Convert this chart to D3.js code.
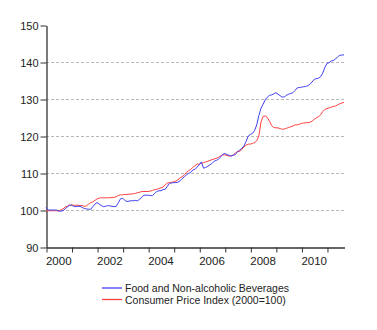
<!DOCTYPE html>
<html>
<head>
<meta charset="utf-8">
<script src="https://cdn.jsdelivr.net/npm/d3@7"></script>
<style>
  html, body { margin: 0; padding: 0; background: #fff; }
  svg text { font-family: "Liberation Sans", Arial, sans-serif; fill: #222; }
</style>
</head>
<body>
<div id="chart-container"></div>
<script>
// monthly index values, Jan 2000 .. Sep 2011 (2000 = 100)
const startYear = 2000
const food = [
  100.7, 100.0, 100.0, 100.0, 100.0, 100.0, 99.7, 99.7, 99.8, 100.3, 100.8, 101.3,
  101.3, 101.0, 100.9, 101.0, 101.0, 100.7, 100.4, 100.3, 100.2, 100.2, 100.9, 101.6,
  102.0, 101.6, 101.2, 100.9, 101.0, 101.2, 101.1, 101.0, 100.9, 101.0, 102.0, 103.0,
  103.2, 102.6, 102.3, 102.4, 102.5, 102.5, 102.6, 102.5, 102.9, 103.5, 104.0, 104.0,
  104.0, 103.9, 103.9, 104.4, 105.0, 105.2, 105.2, 105.5, 105.6, 106.4, 107.2, 107.3,
  107.4, 107.4, 107.5, 107.9, 108.5, 109.0, 109.5, 109.9, 110.2, 110.8, 111.0, 111.6,
  112.2, 113.0, 111.3, 111.5, 111.8, 112.2, 112.6, 113.2, 113.4, 113.7, 114.3, 115.0,
  115.3, 115.0, 114.8, 114.6, 114.8, 115.0, 115.8, 116.2, 116.7, 117.3, 118.5, 120.0,
  120.4, 120.7, 121.5, 123.0, 125.5, 127.5, 128.6, 129.8, 130.5, 131.0, 131.1, 131.4,
  131.7, 131.3, 130.9, 130.5, 130.6, 131.0, 131.3, 131.5, 131.7, 132.3, 133.0, 133.1,
  133.2, 133.3, 133.4, 133.6, 134.0, 134.6, 135.3, 135.5, 135.6, 136.0, 137.0, 138.5,
  139.6, 139.8, 140.3, 140.4, 140.8, 141.4, 141.8, 141.9, 141.9
]
const cpi = [
  99.8, 99.8, 99.8, 99.8, 99.8, 99.8, 99.8, 100.0, 100.3, 100.8, 101.0, 101.3,
  101.35, 101.3, 101.3, 101.3, 101.2, 101.2, 101.0, 101.1, 101.6, 102.0, 102.2, 102.6,
  103.0, 103.2, 103.3, 103.3, 103.3, 103.3, 103.3, 103.4, 103.4, 103.6, 103.9, 104.1,
  104.1, 104.2, 104.2, 104.3, 104.3, 104.4, 104.5, 104.7, 104.8, 105.0, 105.0, 105.0,
  105.0, 105.1, 105.3, 105.5, 105.6, 105.8, 106.0, 106.2, 106.8, 107.3, 107.4, 107.5,
  107.6, 107.8, 108.2, 108.7, 109.0, 109.5, 110.2, 110.6, 111.0, 111.5, 112.0, 112.4,
  112.4, 112.6, 112.8, 113.0, 113.2, 113.4, 113.6, 113.8, 114.0, 114.2, 114.6, 114.9,
  114.9, 114.7, 114.6, 114.6, 114.9, 115.4, 115.8, 115.8, 116.4, 117.1, 117.5, 117.8,
  117.8, 118.0, 118.2, 118.7, 120.0, 123.8, 125.3, 125.4, 125.0, 124.0, 122.8, 122.3,
  122.2, 122.2, 122.0, 121.8, 121.9, 122.1, 122.3, 122.5, 122.7, 123.0, 123.0, 123.2,
  123.4, 123.5, 123.6, 123.6, 123.7, 124.0, 124.5, 124.9, 125.2, 125.7, 126.6, 127.2,
  127.4, 127.6, 127.8, 128.0, 128.1, 128.4, 128.7, 128.9, 129.1
]
const seriesNames = ["Food and Non-alcoholic Beverages", "Consumer Price Index (2000=100)"]
const seriesColors = ["#4040f4", "#ff4040"]
const yTicks = [90, 100, 110, 120, 130, 140, 150]
const gridValues = [100, 110, 120, 130, 140]
const yearTicks = [2000, 2001, 2002, 2003, 2004, 2005, 2006, 2007, 2008, 2009, 2010, 2011]
const yearLabels = ["2000", "2002", "2004", "2006", "2008", "2010"]

const width = 377, height = 330
const plot = {left: 46, right: 344, top: 25, bottom: 247}

const svg = d3.select("#chart-container")
  .append("svg")
    .attr("width", width)
    .attr("height", height)

const x = d3.scaleLinear()
  .domain([startYear, startYear + (food.length - 1) / 12])
  .range([plot.left, plot.right])
const y = d3.scaleLinear()
  .domain([90, 150])
  .range([plot.bottom, plot.top])

// dashed horizontal grid
svg.append("g")
  .selectAll("line")
  .data(gridValues)
  .join("line")
    .attr("x1", plot.left)
    .attr("x2", plot.right)
    .attr("y1", d => Math.round(y(d)) + 0.5)
    .attr("y2", d => Math.round(y(d)) + 0.5)
    .attr("stroke", "#b8b8b8")
    .attr("stroke-dasharray", "3,2")

const yAxis = svg.append("g")
  .attr("transform", `translate(${plot.left + 0.5}, 0.5)`)
  .call(d3.axisLeft(y).tickValues(yTicks).tickSize(6).tickSizeOuter(0).tickPadding(2))
yAxis.selectAll("text").style("font-size", "11px")

const xAxis = svg.append("g")
  .attr("transform", `translate(0.5, ${plot.bottom + 0.5})`)
  .call(d3.axisBottom(x).tickValues(yearTicks).tickFormat("").tickSize(5).tickSizeOuter(0))

;[yAxis, xAxis].forEach(ax => {
  ax.select(".domain").attr("stroke", "#333").attr("stroke-width", 1.3)
  ax.selectAll(".tick line").attr("stroke", "#333")
})

// year labels sit between the yearly ticks
svg.append("g")
  .selectAll("text")
  .data(yearLabels)
  .join("text")
    .attr("x", d => x(+d + 0.5))
    .attr("y", 265)
    .attr("text-anchor", "middle")
    .style("font-size", "11.5px")
    .text(d => d)

const line = d3.line()
  .x((d, i) => x(startYear + i / 12))
  .y(d => y(d))

;[cpi, food].forEach((s, k) => {
  svg.append("path")
    .datum(s)
    .attr("fill", "none")
    .attr("stroke", seriesColors[1 - k])
    .attr("stroke-width", 1)
    .attr("stroke-linejoin", "round")
    .attr("d", line)
})

const legend = svg.selectAll(".lineLegend")
  .data(seriesNames)
  .join("g")
    .attr("class", "lineLegend")
    .attr("transform", (d, i) => `translate(102, ${288 + i * 11.5})`)

legend.append("line")
  .attr("x1", 0).attr("x2", 20)
  .attr("stroke", (d, i) => seriesColors[i])
  .attr("stroke-width", 1.3)

legend.append("text")
  .attr("x", 23)
  .attr("y", 4)
  .style("font-size", "10.5px")
  .text(d => d)
</script>
</body>
</html>
